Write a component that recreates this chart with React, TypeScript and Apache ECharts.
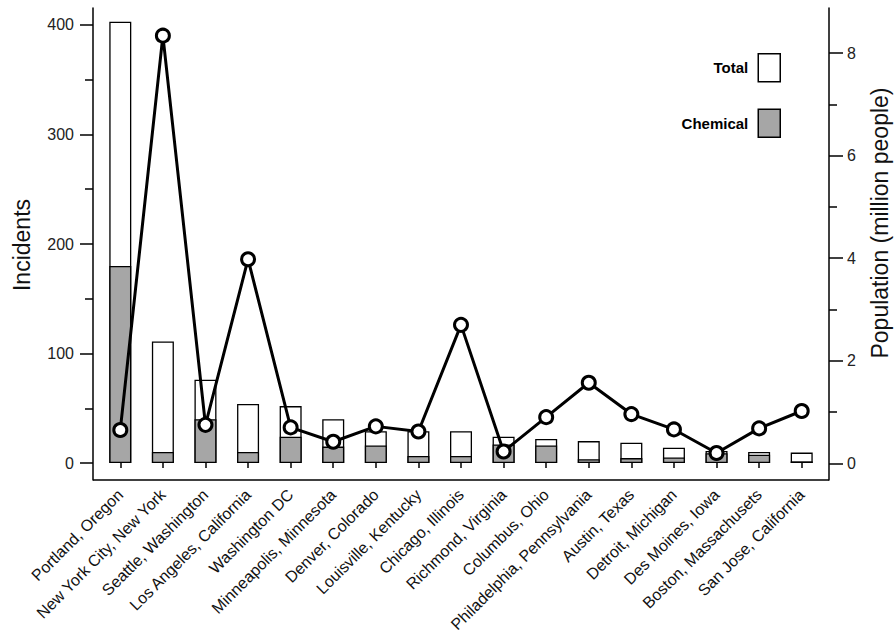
import React, { useEffect, useRef } from "react";
import * as echarts from "echarts";

const categories = [
  "Portland, Oregon",
  "New York City, New York",
  "Seattle, Washington",
  "Los Angeles, California",
  "Washington DC",
  "Minneapolis, Minnesota",
  "Denver, Colorado",
  "Louisville, Kentucky",
  "Chicago, Illinois",
  "Richmond, Virginia",
  "Columbus, Ohio",
  "Philadelphia, Pennsylvania",
  "Austin, Texas",
  "Detroit, Michigan",
  "Des Moines, Iowa",
  "Boston, Massachusets",
  "San Jose, California",
];

const totalIncidents = [403, 111, 76, 54, 52, 40, 29, 29, 29, 24, 22, 20, 18.5, 14, 11, 10, 9.5];
const chemicalIncidents = [180, 10, 40, 10, 24, 15, 16, 6.5, 6.5, 17, 16, 3.5, 4.5, 5, 9, 7.5, 1.5];
const population = [0.65, 8.34, 0.75, 3.98, 0.7, 0.42, 0.72, 0.62, 2.7, 0.23, 0.9, 1.57, 0.96, 0.66, 0.2, 0.68, 1.02];

const leftMajorTicks = [0, 100, 200, 300, 400];
const leftMinorTicks = [50, 150, 250, 350];
const rightMajorTicks = [0, 2, 4, 6, 8];
const rightMinorTicks = [1, 3, 5, 7];

const FONT = "'Liberation Sans', Arial, Helvetica, sans-serif";

export default function App() {
  const ref = useRef<HTMLDivElement>(null);

  useEffect(() => {
    if (!ref.current) return;
    const chart = echarts.init(ref.current, undefined, { renderer: "svg" });

    const axisLineStyle = { color: "#000", width: 1.5 };
    const leftMin = -15.5;
    const leftMax = 415.5;
    const rightMin = -0.326;
    const rightMax = 8.88;

    chart.setOption({
      animation: false,
      backgroundColor: "#fff",
      textStyle: { fontFamily: FONT },
      grid: { left: 99, right: 73, top: 8, bottom: 161, containLabel: false },
      legend: {
        orient: "vertical",
        right: 115,
        top: 53,
        padding: 0,
        align: "right",
        itemWidth: 22,
        itemHeight: 28,
        itemGap: 26,
        icon: "rect",
        selectedMode: false,
        textStyle: {
          fontFamily: FONT,
          fontSize: 15,
          fontWeight: "bold",
          color: "#000",
          padding: [0, 5, 0, 0],
        },
        data: [
          { name: "Total", itemStyle: { color: "#fff", borderColor: "#000", borderWidth: 1.5 } },
          { name: "Chemical", itemStyle: { color: "#a6a6a6", borderColor: "#000", borderWidth: 1.5 } },
        ],
      },
      xAxis: {
        type: "category",
        data: categories,
        boundaryGap: true,
        axisLine: { show: false },
        axisTick: { show: true, alignWithLabel: true, length: 5, lineStyle: { color: "#000", width: 1.5 } },
        axisLabel: {
          rotate: 45,
          interval: 0,
          margin: 12,
          fontSize: 16,
          color: "#111",
          fontFamily: FONT,
        },
        splitLine: { show: false },
      },
      yAxis: [
        {
          type: "value",
          position: "left",
          offset: 6,
          min: leftMin,
          max: leftMax,
          axisLine: { show: true, lineStyle: axisLineStyle },
          axisTick: { show: true, length: 13, customValues: leftMajorTicks, lineStyle: axisLineStyle },
          axisLabel: { show: true, customValues: leftMajorTicks, margin: 19, fontSize: 16, color: "#222", fontFamily: FONT },
          splitLine: { show: false },
        },
        {
          type: "value",
          position: "left",
          offset: 6,
          min: leftMin,
          max: leftMax,
          axisLine: { show: false },
          axisTick: { show: true, length: 8, customValues: leftMinorTicks, lineStyle: axisLineStyle },
          axisLabel: { show: false, customValues: leftMinorTicks },
          splitLine: { show: false },
        },
        {
          type: "value",
          position: "right",
          offset: 6,
          min: rightMin,
          max: rightMax,
          axisLine: { show: true, lineStyle: axisLineStyle },
          axisTick: { show: true, length: 14, customValues: rightMajorTicks, lineStyle: axisLineStyle },
          axisLabel: { show: true, customValues: rightMajorTicks, margin: 18, fontSize: 16, color: "#222", fontFamily: FONT },
          splitLine: { show: false },
        },
        {
          type: "value",
          position: "right",
          offset: 6,
          min: rightMin,
          max: rightMax,
          axisLine: { show: false },
          axisTick: { show: true, length: 8, customValues: rightMinorTicks, lineStyle: axisLineStyle },
          axisLabel: { show: false, customValues: rightMinorTicks },
          splitLine: { show: false },
        },
      ],
      graphic: [
        {
          type: "line",
          shape: { x1: 93, y1: 480, x2: 829, y2: 480 },
          style: { stroke: "#000", lineWidth: 1.5 },
          z: 10,
        },
        {
          type: "text",
          x: 22,
          y: 245,
          rotation: Math.PI / 2,
          style: {
            text: "Incidents",
            fontSize: 23,
            fontFamily: FONT,
            fill: "#111",
            align: "center",
            verticalAlign: "middle",
          },
        },
        {
          type: "text",
          x: 880,
          y: 223,
          rotation: Math.PI / 2,
          style: {
            text: "Population (million people)",
            fontSize: 23,
            fontFamily: FONT,
            fill: "#111",
            align: "center",
            verticalAlign: "middle",
          },
        },
      ],
      series: [
        {
          name: "Total",
          type: "bar",
          yAxisIndex: 0,
          data: totalIncidents,
          barWidth: 22,
          barGap: "-100%",
          itemStyle: { color: "#fff", borderColor: "#000", borderWidth: 1.3 },
        },
        {
          name: "Chemical",
          type: "bar",
          yAxisIndex: 0,
          data: chemicalIncidents,
          barWidth: 22,
          barGap: "-100%",
          itemStyle: { color: "#a6a6a6", borderColor: "#000", borderWidth: 1.3 },
        },
        {
          name: "Population",
          type: "line",
          yAxisIndex: 2,
          data: population,
          symbol: "circle",
          symbolSize: 13,
          showAllSymbol: true,
          lineStyle: { color: "#000", width: 3 },
          itemStyle: { color: "#fff", borderColor: "#000", borderWidth: 3 },
          z: 5,
        },
      ],
    });

    return () => chart.dispose();
  }, []);

  return (
    <div
      ref={ref}
      style={{ position: "absolute", left: 0, top: 0, width: 896, height: 641, background: "#fff" }}
    />
  );
}
